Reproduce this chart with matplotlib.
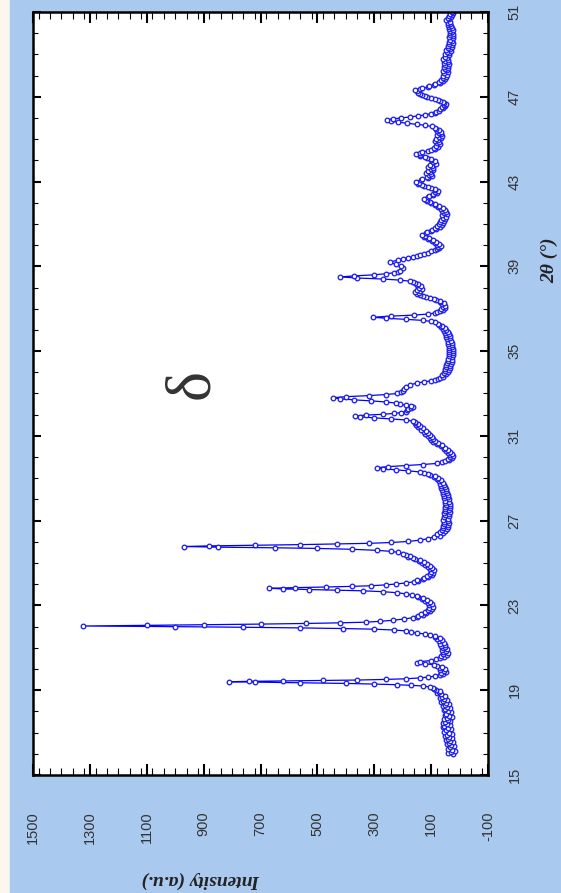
import matplotlib
matplotlib.use("Agg")
import matplotlib.pyplot as plt
from matplotlib.patches import Rectangle
from matplotlib.ticker import MultipleLocator

plt.rcParams["axes.unicode_minus"] = False  # tick label shows a plain "-100"

# XRD pattern: (2theta in degrees, intensity in a.u.)
pattern_16_19 = [
    (16.0, 22), (16.05, 40), (16.1, 30), (16.15, 15), (16.2, 28), (16.25, 42), (16.3, 35),
    (16.35, 20), (16.4, 30), (16.45, 45), (16.5, 38), (16.55, 22), (16.6, 32), (16.65, 48),
    (16.7, 40), (16.75, 25), (16.8, 36), (16.85, 52), (16.9, 45), (16.95, 28), (17.0, 38),
    (17.05, 55), (17.1, 48), (17.15, 30), (17.2, 42), (17.25, 60), (17.3, 55), (17.35, 35),
    (17.4, 45), (17.45, 58), (17.5, 50), (17.55, 32), (17.6, 40), (17.65, 55), (17.7, 45),
    (17.75, 28), (17.8, 36), (17.85, 52), (17.9, 47), (17.95, 30), (18.0, 40), (18.05, 56),
    (18.1, 50), (18.15, 34), (18.2, 44), (18.25, 60), (18.3, 52), (18.35, 38), (18.4, 48),
    (18.45, 64), (18.5, 58), (18.55, 45), (18.6, 55), (18.65, 70), (18.7, 62), (18.75, 52),
    (18.8, 64), (18.85, 78), (18.9, 72), (18.95, 68), (19.0, 82), (19.05, 90), (19.1, 95),
]
pattern_19_22 = [
    (19.15, 105), (19.2, 130), (19.23, 170), (19.26, 220), (19.29, 300), (19.32, 400),
    (19.35, 560), (19.38, 720), (19.4, 810), (19.42, 740), (19.44, 620), (19.46, 480),
    (19.48, 360), (19.51, 260), (19.54, 190), (19.58, 140), (19.62, 110), (19.67, 85),
    (19.72, 70), (19.76, 58), (19.8, 66), (19.85, 48), (19.9, 55), (19.95, 68), (20.0, 52),
    (20.05, 70), (20.1, 62), (20.15, 78), (20.2, 90), (20.25, 120), (20.3, 150), (20.35, 140),
    (20.4, 100), (20.45, 82), (20.5, 70), (20.55, 55), (20.6, 65), (20.65, 45), (20.7, 58),
    (20.75, 42), (20.8, 60), (20.85, 48), (20.9, 62), (20.95, 45), (21.0, 60), (21.05, 50),
    (21.1, 65), (21.15, 52), (21.2, 68), (21.25, 55), (21.3, 72), (21.35, 62), (21.4, 78),
    (21.45, 70), (21.5, 88), (21.55, 85), (21.6, 105), (21.65, 120), (21.7, 150), (21.75, 170),
    (21.8, 190), (21.84, 230), (21.88, 300), (21.91, 410), (21.94, 560), (21.97, 760),
    (22.0, 1000), (22.03, 1325), (22.06, 1100), (22.09, 900), (22.12, 700), (22.15, 540),
    (22.18, 420), (22.21, 330), (22.25, 280), (22.3, 235), (22.36, 195),
]
pattern_22_26 = [
    (22.42, 165), (22.46, 150), (22.5, 145), (22.55, 130), (22.6, 135), (22.65, 118),
    (22.7, 120), (22.75, 105), (22.8, 112), (22.85, 98), (22.9, 106), (22.95, 95), (23.0, 108),
    (23.05, 96), (23.1, 112), (23.15, 104), (23.2, 120), (23.25, 115), (23.3, 132),
    (23.35, 128), (23.4, 145), (23.45, 150), (23.5, 168), (23.55, 190), (23.6, 220),
    (23.65, 270), (23.69, 340), (23.72, 430), (23.75, 530), (23.78, 620), (23.81, 670),
    (23.84, 580), (23.87, 470), (23.9, 380), (23.93, 310), (23.97, 260), (24.01, 225),
    (24.06, 190), (24.12, 160), (24.16, 145), (24.2, 150), (24.25, 128), (24.3, 125),
    (24.35, 110), (24.4, 115), (24.45, 98), (24.5, 105), (24.55, 92), (24.6, 100), (24.65, 90),
    (24.7, 104), (24.75, 96), (24.8, 112), (24.85, 105), (24.9, 122), (24.95, 115), (25.0, 132),
    (25.05, 125), (25.1, 142), (25.15, 140), (25.2, 158), (25.25, 165), (25.3, 180),
    (25.35, 175), (25.4, 190), (25.45, 200), (25.5, 215), (25.55, 240), (25.6, 290),
    (25.65, 380), (25.69, 500), (25.72, 650), (25.75, 850), (25.78, 970), (25.81, 880),
    (25.84, 720), (25.87, 560), (25.9, 430), (25.93, 320), (25.97, 240), (26.02, 180),
    (26.08, 140), (26.15, 110),
]
pattern_26_30 = [
    (26.25, 90), (26.3, 70), (26.35, 78), (26.4, 58), (26.45, 68), (26.5, 50), (26.55, 62),
    (26.6, 45), (26.65, 60), (26.7, 42), (26.75, 58), (26.8, 40), (26.85, 55), (26.9, 38),
    (26.95, 56), (27.0, 40), (27.05, 58), (27.1, 42), (27.15, 55), (27.2, 36), (27.25, 52),
    (27.3, 38), (27.35, 54), (27.4, 35), (27.45, 50), (27.5, 36), (27.55, 52), (27.6, 33),
    (27.65, 50), (27.7, 35), (27.75, 48), (27.8, 32), (27.85, 50), (27.9, 36), (27.95, 52),
    (28.0, 38), (28.05, 55), (28.1, 40), (28.15, 56), (28.2, 42), (28.25, 58), (28.3, 44),
    (28.35, 60), (28.4, 46), (28.45, 62), (28.5, 48), (28.55, 64), (28.6, 52), (28.65, 66),
    (28.7, 55), (28.75, 70), (28.8, 60), (28.85, 72), (28.9, 65), (28.95, 78), (29.0, 75),
    (29.05, 90), (29.1, 88), (29.15, 105), (29.2, 112), (29.25, 125), (29.3, 140),
    (29.35, 180), (29.4, 225), (29.45, 270), (29.5, 290), (29.55, 250), (29.6, 190),
    (29.65, 130), (29.7, 80), (29.75, 62), (29.8, 50), (29.85, 38), (29.9, 42), (29.95, 28),
]
pattern_30_34 = [
    (30.0, 32), (30.05, 22), (30.1, 35), (30.15, 28), (30.2, 40), (30.25, 32), (30.3, 48),
    (30.35, 42), (30.4, 55), (30.45, 52), (30.5, 66), (30.55, 62), (30.6, 78), (30.65, 75),
    (30.7, 92), (30.75, 85), (30.8, 102), (30.85, 92), (30.9, 105), (30.95, 98), (31.0, 112),
    (31.05, 104), (31.1, 120), (31.15, 112), (31.2, 126), (31.25, 118), (31.3, 135),
    (31.35, 128), (31.4, 145), (31.45, 138), (31.5, 152), (31.55, 145), (31.6, 158),
    (31.65, 155), (31.7, 165), (31.75, 190), (31.8, 240), (31.85, 300), (31.9, 350),
    (31.94, 368), (31.98, 330), (32.02, 270), (32.06, 230), (32.1, 205), (32.15, 190),
    (32.2, 185), (32.25, 180), (32.3, 170), (32.35, 165), (32.4, 170), (32.45, 190),
    (32.5, 210), (32.55, 225), (32.6, 260), (32.65, 310), (32.7, 370), (32.75, 420),
    (32.8, 445), (32.85, 400), (32.9, 320), (32.95, 260), (33.0, 220), (33.05, 205),
    (33.1, 198), (33.2, 195), (33.3, 190), (33.4, 175), (33.5, 150), (33.55, 125),
    (33.6, 100), (33.65, 88), (33.7, 75), (33.75, 68), (33.8, 58), (33.85, 62), (33.9, 48),
    (33.95, 56),
]
pattern_34_39 = [
    (34.0, 42), (34.05, 52), (34.1, 38), (34.15, 50), (34.2, 35), (34.25, 48), (34.3, 32),
    (34.35, 46), (34.4, 30), (34.45, 44), (34.5, 28), (34.55, 42), (34.6, 26), (34.65, 40),
    (34.7, 25), (34.75, 38), (34.8, 24), (34.85, 36), (34.9, 22), (34.95, 36), (35.0, 24),
    (35.05, 38), (35.1, 22), (35.15, 36), (35.2, 25), (35.25, 38), (35.3, 26), (35.35, 40),
    (35.4, 28), (35.45, 42), (35.5, 30), (35.55, 44), (35.6, 32), (35.65, 46), (35.7, 35),
    (35.75, 48), (35.8, 38), (35.85, 52), (35.9, 42), (35.95, 55), (36.0, 48), (36.05, 58),
    (36.1, 52), (36.15, 64), (36.2, 62), (36.25, 72), (36.3, 75), (36.35, 88), (36.4, 100),
    (36.45, 130), (36.5, 190), (36.55, 260), (36.6, 305), (36.65, 240), (36.7, 160),
    (36.75, 110), (36.8, 85), (36.85, 78), (36.9, 70), (36.95, 60), (37.0, 66), (37.05, 52),
    (37.1, 60), (37.15, 50), (37.2, 62), (37.25, 55), (37.3, 68), (37.35, 70), (37.4, 82),
    (37.45, 90), (37.5, 105), (37.55, 118), (37.6, 130), (37.65, 138), (37.7, 150),
    (37.75, 142), (37.8, 155), (37.85, 140), (37.9, 148), (37.95, 132), (38.0, 142),
    (38.05, 135), (38.1, 150), (38.15, 145), (38.2, 158), (38.25, 162), (38.3, 175),
    (38.35, 210), (38.4, 270), (38.45, 360), (38.5, 420), (38.55, 370), (38.6, 300),
    (38.65, 260), (38.7, 230), (38.75, 215), (38.8, 210), (38.9, 200), (39.0, 205),
    (39.1, 225), (39.2, 245),
]
pattern_39_46 = [
    (39.3, 215), (39.35, 200), (39.4, 180), (39.45, 165), (39.5, 150), (39.55, 138),
    (39.6, 125), (39.65, 110), (39.7, 100), (39.75, 88), (39.8, 80), (39.85, 72), (39.9, 75),
    (39.95, 66), (40.0, 78), (40.05, 72), (40.1, 88), (40.15, 82), (40.2, 98), (40.25, 95),
    (40.3, 112), (40.35, 108), (40.4, 125), (40.45, 120), (40.5, 132), (40.55, 118),
    (40.6, 115), (40.65, 100), (40.7, 98), (40.75, 82), (40.8, 88), (40.85, 70), (40.9, 78),
    (40.95, 62), (41.0, 72), (41.05, 58), (41.1, 70), (41.15, 55), (41.2, 64), (41.25, 50),
    (41.3, 60), (41.35, 46), (41.4, 62), (41.45, 45), (41.5, 55), (41.55, 48), (41.6, 62),
    (41.65, 52), (41.7, 65), (41.75, 60), (41.8, 75), (41.85, 72), (41.9, 85), (41.95, 88),
    (42.0, 100), (42.05, 105), (42.1, 115), (42.15, 118), (42.2, 125), (42.25, 112),
    (42.3, 108), (42.35, 92), (42.4, 95), (42.45, 80), (42.5, 88), (42.55, 76), (42.6, 85),
    (42.65, 88), (42.7, 100), (42.75, 110), (42.8, 125), (42.85, 132), (42.9, 145),
    (42.95, 142), (43.0, 152), (43.05, 135), (43.1, 132), (43.15, 112), (43.2, 115),
    (43.25, 98), (43.3, 108), (43.35, 100), (43.4, 118), (43.45, 105), (43.5, 110),
    (43.55, 92), (43.6, 100), (43.65, 95), (43.7, 112), (43.75, 98), (43.8, 105), (43.85, 84),
    (43.9, 92), (43.95, 88), (44.0, 100), (44.05, 102), (44.1, 115), (44.15, 122), (44.2, 138),
    (44.25, 140), (44.3, 152), (44.35, 138), (44.4, 132), (44.45, 110), (44.5, 102),
    (44.55, 86), (44.6, 90), (44.65, 76), (44.7, 84), (44.75, 70), (44.8, 80), (44.85, 72),
    (44.9, 88), (44.95, 76), (45.0, 82), (45.05, 66), (45.1, 74), (45.15, 62), (45.2, 78),
    (45.25, 64), (45.3, 72), (45.35, 66), (45.4, 78), (45.45, 72), (45.5, 84), (45.55, 85),
    (45.6, 98), (45.65, 120), (45.7, 150), (45.75, 185), (45.8, 215), (45.85, 240),
    (45.91, 255), (45.96, 235), (46.0, 205), (46.05, 175), (46.1, 145), (46.15, 120),
]
pattern_46_51 = [
    (46.2, 100), (46.25, 88), (46.3, 82), (46.35, 72), (46.4, 70), (46.45, 58), (46.5, 62),
    (46.55, 50), (46.6, 56), (46.65, 48), (46.7, 55), (46.75, 58), (46.8, 68), (46.85, 75),
    (46.9, 88), (46.95, 100), (47.0, 115), (47.05, 122), (47.1, 132), (47.15, 138), (47.2, 146),
    (47.25, 150), (47.3, 157), (47.35, 140), (47.4, 132), (47.45, 112), (47.5, 106),
    (47.55, 90), (47.6, 86), (47.65, 70), (47.7, 74), (47.75, 60), (47.8, 66), (47.85, 52),
    (47.9, 60), (47.95, 48), (48.0, 58), (48.05, 45), (48.1, 55), (48.15, 42), (48.2, 58),
    (48.25, 44), (48.3, 52), (48.35, 40), (48.4, 55), (48.45, 42), (48.5, 50), (48.55, 38),
    (48.6, 56), (48.65, 42), (48.7, 52), (48.75, 40), (48.8, 58), (48.85, 44), (48.9, 50),
    (48.95, 36), (49.0, 52), (49.05, 38), (49.1, 45), (49.15, 30), (49.2, 46), (49.25, 32),
    (49.3, 40), (49.35, 26), (49.4, 42), (49.45, 28), (49.5, 36), (49.55, 24), (49.6, 38),
    (49.65, 25), (49.7, 34), (49.75, 22), (49.8, 36), (49.85, 24), (49.9, 32), (49.95, 22),
    (50.0, 35), (50.05, 25), (50.1, 32), (50.15, 24), (50.2, 38), (50.25, 28), (50.3, 36),
    (50.35, 30), (50.4, 42), (50.45, 32), (50.5, 40), (50.55, 34), (50.6, 46), (50.65, 36),
    (50.7, 40), (50.75, 30), (50.8, 36), (50.85, 26), (50.9, 32), (50.95, 24), (51.0, 28),
]

two_theta_ticks = [15, 19, 23, 27, 31, 35, 39, 43, 47, 51]
intensity_ticks = [1500, 1300, 1100, 900, 700, 500, 300, 100, -100]

pattern = (pattern_16_19 + pattern_19_22 + pattern_22_26 + pattern_26_30
           + pattern_30_34 + pattern_34_39 + pattern_39_46 + pattern_46_51)
two_theta = [p[0] for p in pattern]
intensity = [p[1] for p in pattern]

fig = plt.figure(figsize=(5.61, 8.93), dpi=100, facecolor="#fbf7ee")
# light blue panel behind everything, leaving a thin beige strip on the left
fig.patches.append(Rectangle((10 / 561, 0), 1, 1, transform=fig.transFigure,
                             color="#a9c9ef", zorder=-10))

# the chart is shown rotated by 90 degrees: intensity runs horizontally, 2theta vertically
ax = fig.add_axes([33 / 561, 1 - 775 / 893, 455 / 561, 763 / 893])
ax.set_facecolor("white")
ax.plot(intensity, two_theta, color="#0000ff", linewidth=0.9,
        marker="o", markersize=3.3, markerfacecolor="white",
        markeredgecolor="#2020ee", markeredgewidth=0.95)

ax.set_xlim(1500, -100)
ax.set_ylim(15, 51)
ax.set_xticks(intensity_ticks)
ax.xaxis.set_minor_locator(MultipleLocator(40))
ax.set_yticks(two_theta_ticks)
ax.yaxis.set_minor_locator(MultipleLocator(1))

for s in ax.spines.values():
    s.set_linewidth(1.8)

ax.tick_params(axis="x", which="major", direction="in", length=8, width=1.5,
               top=True, bottom=True, pad=26, labelrotation=90, labelcolor="#333333")
ax.tick_params(axis="x", which="minor", direction="in", length=5, width=0.8,
               top=True, bottom=True)
ax.tick_params(axis="y", which="major", direction="in", length=5.5, width=1.5,
               left=True, right=True, labelleft=False, labelright=True, pad=14,
               labelrotation=90, labelcolor="#333333")
ax.tick_params(axis="y", which="minor", direction="in", length=3.5, width=0.8,
               left=True, right=True)
for t in ax.get_xticklabels() + ax.get_yticklabels():
    t.set_fontfamily("Liberation Sans")
    t.set_fontsize(10.5)
for t in ax.get_yticklabels():
    t.set_verticalalignment("center")

fig.text(201 / 561, 1 - 880 / 893, "Intensity (a.u.)", rotation=180,
         family="Liberation Serif", weight="bold", style="italic", fontsize=14,
         ha="center", va="center", color="#222222")
fig.text(550 / 561, 1 - 260 / 893, "2θ (°)", rotation=90,
         family="Liberation Serif", weight="bold", style="italic", fontsize=14,
         ha="center", va="center", color="#222222")
ax.text(193 / 561, 1 - 384 / 893, "δ", transform=fig.transFigure, rotation=90,
        family="Liberation Serif", fontsize=46, ha="center", va="center",
        color="#333333")

fig.savefig("out.png", dpi=100, facecolor=fig.get_facecolor())
